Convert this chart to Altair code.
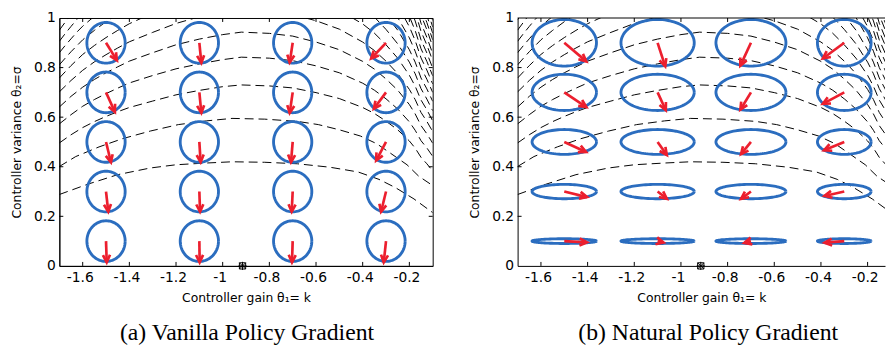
import altair as alt
import numpy as np
import pandas as pd

# ---------------- values ----------------
K_CENTERS = [-1.5, -1.1, -0.7, -0.3]
S_CENTERS = [0.1, 0.3, 0.5, 0.7, 0.9]

# (a) vanilla gradient: circle radii (data units)
VAN_RK = [0.082, 0.082, 0.082, 0.082]
VAN_RS = [0.082, 0.082, 0.082, 0.082, 0.082]
# (b) natural gradient: ellipse radii (per column / per row)
NAT_RK = [0.138, 0.157, 0.150, 0.115]
NAT_RS = [0.0095, 0.029, 0.050, 0.073, 0.094]

# gradient arrows (tip offset in data units), rows follow S_CENTERS, columns K_CENTERS
VAN_DK = [[0.003, 0.0013, -0.003, -0.0097],
          [0.0097, 0.003, -0.0042, -0.0212],
          [0.0212, 0.0055, -0.0072, -0.0423],
          [0.0381, 0.0085, -0.0127, -0.052],
          [0.0466, 0.0085, -0.0127, -0.0635]]
VAN_DS = [[-0.0857, -0.0857, -0.0857, -0.0857],
          [-0.0817, -0.0817, -0.0817, -0.0817],
          [-0.0817, -0.0817, -0.0817, -0.075],
          [-0.079, -0.0829, -0.0829, -0.066],
          [-0.071, -0.0813, -0.079, -0.0632]]
NAT_DK = [[0.0974, 0.0254, -0.0284, -0.0847],
          [0.0974, 0.0394, -0.0423, -0.0847],
          [0.0931, 0.0394, -0.0423, -0.0868],
          [0.0944, 0.0351, -0.0453, -0.0919],
          [0.0944, 0.0326, -0.0453, -0.0919]]
NAT_DS = [[-0.0051, -0.0059, -0.0071, -0.0063],
          [-0.0225, -0.0292, -0.0296, -0.0178],
          [-0.0407, -0.0525, -0.0493, -0.0336],
          [-0.0592, -0.0722, -0.0699, -0.0462],
          [-0.075, -0.0948, -0.092, -0.0632]]

# optimum marker
OPT_K = [-0.915]
OPT_S = [0.0]

# dashed contour lines of the expected return (k values, sigma values)
G = [-1.7, -1.65, -1.6, -1.55, -1.5, -1.45, -1.4, -1.3, -1.2, -1.1, -1.0, -0.92,
     -0.8, -0.7, -0.6, -0.5, -0.4, -0.35, -0.3, -0.25, -0.2, -0.175, -0.15, -0.125, -0.1]
CONTOUR_K = [
    [-1.70, -1.58, -1.45, -1.31, -1.20, -1.07, -0.96, -0.82, -0.68, -0.54, -0.42, -0.33, -0.26, -0.18, -0.10],
    [-1.70, -1.63, -1.53, -1.43, -1.31, -1.19, -1.07, -0.96, -0.82, -0.68, -0.59, -0.50, -0.41, -0.34, -0.28, -0.21, -0.16, -0.10],
    G, G, G,
    [-1.7, -1.65, -1.6, -1.55, -1.5, -1.45, -1.4, -1.3, -1.2, -1.1],
    [-0.7, -0.6, -0.5, -0.4, -0.35, -0.3, -0.25, -0.2, -0.175, -0.15, -0.125, -0.1],
    [-1.7, -1.65, -1.6, -1.55, -1.5, -1.45, -1.4, -1.3],
    [-0.5, -0.4, -0.35, -0.3, -0.25, -0.2, -0.175, -0.15, -0.125, -0.1],
    [-1.7, -1.675, -1.65, -1.6, -1.55, -1.5, -1.45],
    [-0.4, -0.35, -0.3, -0.25, -0.2, -0.175, -0.15, -0.125, -0.1],
    [-1.7, -1.675, -1.65, -1.625, -1.6, -1.55],
    [-0.35, -0.3, -0.25, -0.2, -0.175, -0.15, -0.125, -0.1],
    [-1.7, -1.675, -1.65, -1.625, -1.6],
    [-0.3, -0.25, -0.2, -0.175, -0.15, -0.125, -0.1],
    [-1.7, -1.675, -1.65],
    [-0.25, -0.2, -0.175, -0.15, -0.125, -0.1],
    [-1.7, -1.675],
    [-0.25, -0.2, -0.175, -0.15, -0.125, -0.1],
    [-0.2, -0.175, -0.15, -0.125, -0.1],
    [-0.2, -0.175, -0.15, -0.125, -0.1],
    [-0.175, -0.15, -0.125, -0.1],
    [-0.175, -0.15, -0.125, -0.1],
    [-0.15, -0.125, -0.1],
    [-0.15, -0.125, -0.1],
    [-0.125, -0.1],
    [-0.125, -0.1],
]
CONTOUR_S = [
    [0.288, 0.329, 0.368, 0.395, 0.408, 0.415, 0.420, 0.418, 0.412, 0.398, 0.379, 0.349, 0.316, 0.270, 0.215],
    [0.401, 0.441, 0.480, 0.513, 0.544, 0.570, 0.585, 0.595, 0.592, 0.583, 0.570, 0.549, 0.524, 0.493, 0.454, 0.408, 0.362, 0.324],
    [.496, .529, .558, .582, .603, .622, .639, .665, .690, .708, .723, .730, .726, .718, .699, .675, .639, .615, .584, .549, .504, .475, .438, .412, .383],
    [.573, .610, .644, .671, .695, .717, .738, .768, .795, .815, .832, .842, .838, .828, .807, .779, .737, .709, .674, .633, .581, .547, .505, .476, .442],
    [.641, .684, .721, .752, .779, .803, .826, .860, .892, .915, .933, .943, .938, .927, .903, .872, .825, .794, .754, .709, .651, .613, .566, .533, .495],
    [.702, .748, .789, .823, .852, .879, .904, .942, .978, 1.005],
    [1.014, .989, .955, .903, .869, .826, .776, .712, .671, .619, .583, .542],
    [.758, .808, .853, .889, .921, .950, .977, 1.020],
    [1.031, .976, .939, .892, .838, .769, .725, .669, .630, .585],
    [.811, .838, .864, .912, .950, .985, 1.016],
    [1.043, 1.004, .954, .896, .822, .775, .715, .673, .626],
    [.860, .889, .916, .943, .967, 1.007],
    [1.064, 1.011, .951, .872, .822, .758, .714, .664],
    [.906, .937, .966, .994, 1.020],
    [1.066, 1.002, .920, .866, .800, .753, .700],
    [.951, .983, 1.014],
    [1.051, .965, .909, .839, .790, .734],
    [.993, 1.026],
    [1.098, 1.007, .949, .876, .825, .767],
    [1.049, .988, .912, .859, .798],
    [1.088, 1.025, .946, .891, .828],
    [1.061, .979, .922, .857],
    [1.096, 1.012, .953, .885],
    [1.043, .982, .912],
    [1.073, 1.010, .939],
    [1.038, .964],
    [1.065, .990],
]

X_TICKS = [-1.6, -1.4, -1.2, -1.0, -0.8, -0.6, -0.4, -0.2]
Y_TICKS = [0, 0.2, 0.4, 0.6, 0.8, 1.0]
CAPTIONS = ["(a) Vanilla Policy Gradient", "(b) Natural Policy Gradient"]
X_TITLE = "Controller gain θ₁= k"
Y_TITLE = "Controller variance θ₂=σ"

# ---------------- styling / layout ----------------
BLUE = "#2b6dbf"
RED = "#ec1f2e"
FONT = "DejaVu Sans"
H = 251
W_A = 378
X_MIN, X_MAX_A = -1.7, -0.1
PPU = W_A / (X_MAX_A - X_MIN)
W_B = 372
X_MAX_B = X_MIN + W_B / PPU
HEAD = "M-0.55,1.15L0,0L0.55,1.15"
OPT_SHAPE = "M-1,-1H1V1H-1Z M-1,-1L1,1 M1,-1L-1,1 M0,-1.3V1.3 M-1.3,0H1.3"

contour_rows = []
for cid, (ks, ss) in enumerate(zip(CONTOUR_K, CONTOUR_S)):
    for i, (k, s) in enumerate(zip(ks, ss)):
        contour_rows.append({"cid": cid, "i": i, "k": k, "s": s})
contour_df = pd.DataFrame(contour_rows)


def ellipse_df(rk, rs):
    t = np.linspace(0, 2 * np.pi, 97)
    rows = []
    for ci, kc in enumerate(K_CENTERS):
        for ri, sc in enumerate(S_CENTERS):
            for j, tt in enumerate(t):
                rows.append({"eid": f"{ci}-{ri}", "j": j,
                             "k": kc + rk[ci] * np.cos(tt),
                             "s": sc + rs[ri] * np.sin(tt)})
    return pd.DataFrame(rows)


def arrow_df(dk, ds):
    rows = []
    for ri, sc in enumerate(S_CENTERS):
        for ci, kc in enumerate(K_CENTERS):
            a, b = dk[ri][ci], ds[ri][ci]
            ang = np.degrees(np.arctan2(a * PPU, b * H)) % 360
            rows.append({"k": kc, "s": sc, "k2": kc + a, "s2": sc + b, "ang": ang})
    return pd.DataFrame(rows)


def panel(xmax, width, rk, rs, dk, ds, caption, cap_dx, right_border):
    xs = alt.Scale(domain=[X_MIN, xmax], nice=False, zero=False)
    ys = alt.Scale(domain=[0, 1], nice=False, zero=False)
    xaxis = alt.Axis(values=X_TICKS, ticks=False, grid=False, domain=True, domainColor="black",
                     labelExpr="(datum.value < 0 ? '-' : '') + format(abs(datum.value), '~g')",
                     labelFont=FONT, labelFontSize=14, labelColor="black", labelPadding=5, labelOffset=-3,
                     title=X_TITLE, titleFont=FONT, titleFontSize=12.5, titleFontWeight="normal",
                     titleColor="black", titlePadding=7)
    yaxis = alt.Axis(values=Y_TICKS, ticks=False, grid=False, domain=True, domainColor="black",
                     format="~g", labelFont=FONT, labelFontSize=14, labelColor="black", labelPadding=4,
                     title=Y_TITLE, titleFont=FONT, titleFontSize=12.5, titleFontWeight="normal",
                     titleColor="black", titlePadding=10)

    def X(f):
        return alt.X(f, scale=xs, axis=xaxis, title=X_TITLE)

    def Y(f):
        return alt.Y(f, scale=ys, axis=yaxis, title=Y_TITLE)

    contours = alt.Chart(contour_df).mark_line(
        color="black", strokeWidth=1, strokeDash=[9, 5], clip=True
    ).encode(x=X("k:Q"), y=Y("s:Q"), detail="cid:N", order="i:Q")
    ell = alt.Chart(ellipse_df(rk, rs)).mark_line(
        color=BLUE, strokeWidth=2.9, clip=True
    ).encode(x=X("k:Q"), y=Y("s:Q"), detail="eid:N", order="j:Q")
    adf = arrow_df(dk, ds)
    shafts = alt.Chart(adf).mark_rule(color=RED, strokeWidth=2.7, clip=True).encode(
        x=X("k:Q"), y=Y("s:Q"), x2="k2:Q", y2="s2:Q",
    )
    heads = alt.Chart(adf).mark_point(
        shape=HEAD, size=170, filled=False, color=RED, strokeWidth=2.7, opacity=1, clip=True
    ).encode(x=X("k2:Q"), y=Y("s2:Q"), angle=alt.Angle("ang:Q", scale=None))
    xt = pd.DataFrame({"v": X_TICKS})
    yt = pd.DataFrame({"v": Y_TICKS[1:-1]})
    tick_layers = [
        alt.Chart(xt).mark_rule(color="black", strokeWidth=1).encode(
            x=X("v:Q"), y=alt.value(H), y2=alt.value(H - 4)),
        alt.Chart(xt).mark_rule(color="black", strokeWidth=1).encode(
            x=X("v:Q"), y=alt.value(0), y2=alt.value(4)),
        alt.Chart(yt).mark_rule(color="black", strokeWidth=1).encode(
            y=Y("v:Q"), x=alt.value(0), x2=alt.value(4)),
    ]
    if right_border:
        tick_layers.append(alt.Chart(yt).mark_rule(color="black", strokeWidth=1).encode(
            y=Y("v:Q"), x=alt.value(width), x2=alt.value(width - 4)))
    else:
        tick_layers.append(alt.Chart(pd.DataFrame({"v": [0]})).mark_rule(color="black", strokeWidth=1).encode(
            x=alt.value(0), x2=alt.value(width), y=alt.value(0)))
    opt = alt.Chart(pd.DataFrame({"k": OPT_K, "s": OPT_S})).mark_point(
        shape=OPT_SHAPE, size=40, filled=False, color="black", strokeWidth=1, opacity=1
    ).encode(x=X("k:Q"), y=Y("s:Q"))

    props = dict(width=width, height=H,
                 title=alt.TitleParams(caption, orient="bottom", anchor="middle", frame="group",
                                       font="Liberation Serif", fontSize=24, fontWeight="normal",
                                       color="black", offset=18, dx=cap_dx))
    if not right_border:
        props["view"] = alt.ViewBackground(stroke="transparent")
    return alt.layer(contours, ell, shafts, heads, *tick_layers, opt).properties(**props)


pa = panel(X_MAX_A, W_A, VAN_RK, VAN_RS, VAN_DK, VAN_DS, CAPTIONS[0], 1, True)
pb = panel(X_MAX_B, W_B, NAT_RK, NAT_RS, NAT_DK, NAT_DS, CAPTIONS[1], 7, False)

chart = alt.hconcat(pa, pb, spacing=35).properties(
    padding={"left": 2, "top": 0, "right": 0, "bottom": 0}, background="white"
).configure_view(stroke="black", strokeWidth=1)

chart.save("out.html", embed_options={"renderer": "svg", "actions": False})
